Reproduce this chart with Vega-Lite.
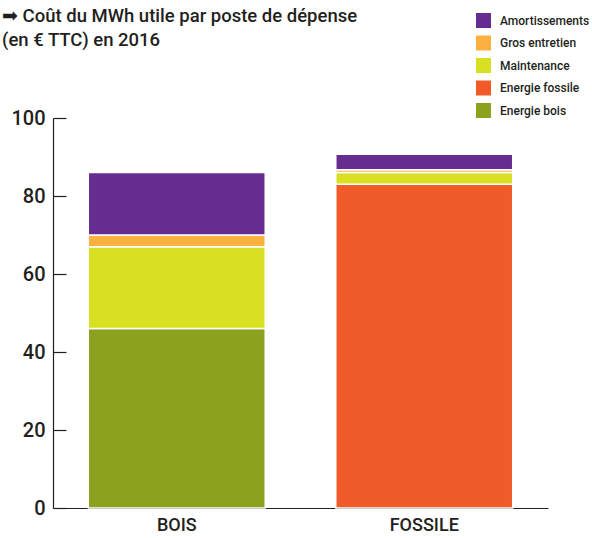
{
  "$schema": "https://vega.github.io/schema/vega-lite/v6.json",
  "width": 495,
  "height": 390,
  "autosize": {"type": "none"},
  "padding": {"left": 53, "top": 118, "right": 44, "bottom": 30},
  "background": "white",
  "title": {
    "text": ["➡ Coût du MWh utile par poste de dépense", "(en € TTC) en 2016"],
    "anchor": "start",
    "frame": "group",
    "dx": -51,
    "dy": 40,
    "fontSize": 18.5,
    "fontWeight": 500,
    "lineHeight": 24,
    "font": "Roboto, sans-serif",
    "color": "#231F20"
  },
  "data": {
    "values": [
      {"cat": "BOIS", "poste": "Energie bois", "ord": 1, "val": 46},
      {"cat": "BOIS", "poste": "Maintenance", "ord": 2, "val": 21},
      {"cat": "BOIS", "poste": "Gros entretien", "ord": 3, "val": 3},
      {"cat": "BOIS", "poste": "Amortissements", "ord": 4, "val": 16},
      {"cat": "FOSSILE", "poste": "Energie fossile", "ord": 1, "val": 83},
      {"cat": "FOSSILE", "poste": "Maintenance", "ord": 2, "val": 3},
      {"cat": "FOSSILE", "poste": "Gros entretien", "ord": 3, "val": 0.7},
      {"cat": "FOSSILE", "poste": "Amortissements", "ord": 4, "val": 4}
    ]
  },
  "mark": {"type": "bar", "stroke": "white", "strokeWidth": 1.5},
  "encoding": {
    "x": {
      "field": "cat",
      "type": "nominal",
      "scale": {"paddingInner": 0.285, "paddingOuter": 0.1425},
      "axis": {
        "title": null,
        "labelAngle": 0,
        "ticks": false,
        "labelFontSize": 18,
        "labelFont": "Roboto, sans-serif",
        "labelFontWeight": 500,
        "labelColor": "#231F20",
        "labelPadding": 8,
        "domainColor": "#231F20",
        "domainWidth": 1.2
      }
    },
    "y": {
      "field": "val",
      "type": "quantitative",
      "stack": "zero",
      "scale": {"domain": [0, 100]},
      "axis": {
        "title": null,
        "values": [0, 20, 40, 60, 80, 100],
        "grid": false,
        "tickSize": -13,
        "tickColor": "#231F20",
        "tickWidth": 1.2,
        "domainColor": "#231F20",
        "domainWidth": 1.2,
        "labelFontSize": 20,
        "labelFont": "Roboto, sans-serif",
        "labelFontWeight": 500,
        "labelColor": "#231F20",
        "labelPadding": 21
      }
    },
    "order": {"field": "ord", "type": "quantitative"},
    "color": {
      "field": "poste",
      "type": "nominal",
      "scale": {
        "domain": ["Amortissements", "Gros entretien", "Maintenance", "Energie fossile", "Energie bois"],
        "range": ["#652D8F", "#FBB040", "#D9E021", "#F15A29", "#8CA21F"]
      },
      "legend": {
        "title": null,
        "orient": "none",
        "legendX": 423,
        "legendY": -105,
        "symbolType": "square",
        "symbolSize": 225,
        "symbolStrokeWidth": 0,
        "symbolOpacity": 1,
        "labelFontSize": 12,
        "labelFont": "Roboto, sans-serif",
        "labelFontWeight": 500,
        "labelColor": "#231F20",
        "labelOffset": 9,
        "rowPadding": 7.5,
        "padding": 0
      }
    }
  },
  "config": {"view": {"stroke": null}}
}
